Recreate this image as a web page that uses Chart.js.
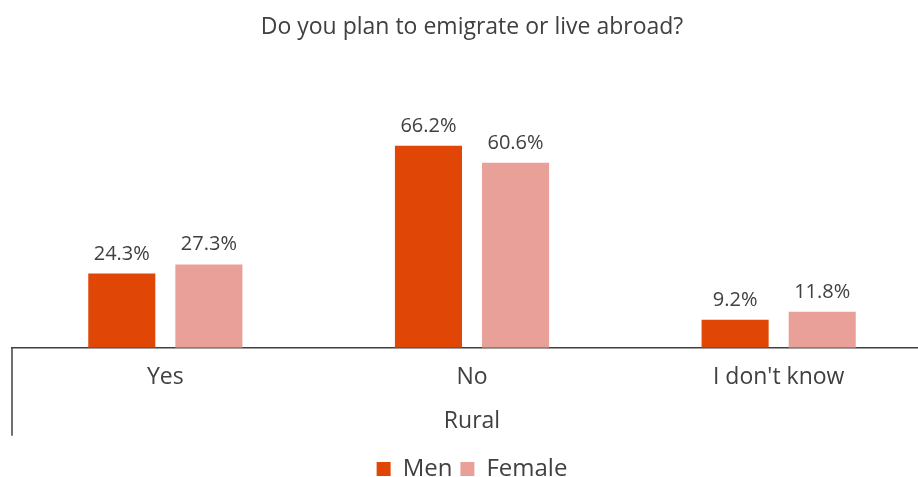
<!DOCTYPE html>
<html>
<head>
<meta charset="utf-8">
<script src="https://cdn.jsdelivr.net/npm/chart.js@4.4.1/dist/chart.umd.min.js"></script>
<style>
  html, body { margin: 0; padding: 0; background: #fff; overflow: hidden; }
  #wrap { width: 950px; height: 493px; position: relative; }
</style>
</head>
<body>
<div id="wrap"><canvas id="emigrationChart"></canvas></div>
<script>
const categories = ['Yes', 'No', "I don't know"];
const groupLabel = 'Rural';
const menValues = [24.3, 66.2, 9.2];
const femaleValues = [27.3, 60.6, 11.8];
const seriesNames = ['Men', 'Female'];

const textColor = '#404040';
const fontFamily = '"Open Sans", "Noto Sans", sans-serif';

// draws value labels above bars and the group separator under the axis
const barLabels = {
    id: 'barLabels',
    afterDatasetsDraw(chart) {
        const ctx = chart.ctx;
        ctx.save();
        ctx.fillStyle = textColor;
        ctx.font = '20px ' + fontFamily;
        ctx.textAlign = 'center';
        ctx.textBaseline = 'alphabetic';
        chart.data.datasets.forEach((ds, i) => {
            chart.getDatasetMeta(i).data.forEach((bar, j) => {
                ctx.fillText(ds.data[j].toFixed(1) + '%', bar.x, bar.y - 14);
            });
        });
        // left separator line of the multi-level category axis
        const area = chart.chartArea;
        ctx.strokeStyle = '#404040';
        ctx.lineWidth = 1.5;
        ctx.beginPath();
        ctx.moveTo(area.left, area.bottom);
        ctx.lineTo(area.left, area.bottom + 88);
        ctx.stroke();
        ctx.restore();
    }
};

const ctx = document.getElementById('emigrationChart').getContext('2d');
new Chart(ctx, {
    type: 'bar',
    data: {
        labels: categories,
        datasets: [
            { label: seriesNames[0], data: menValues, backgroundColor: '#E04606' },
            { label: seriesNames[1], data: femaleValues, backgroundColor: '#E9A099' }
        ]
    },
    options: {
        responsive: true,
        maintainAspectRatio: false,
        animation: false,
        datasets: { bar: { barPercentage: 0.77, categoryPercentage: 0.568 } },
        layout: { padding: { left: 12, right: 18, top: 0, bottom: 2 } },
        plugins: {
            title: { display: false },
            subtitle: {
                display: true,
                text: 'Do you plan to emigrate or live abroad?',
                color: textColor,
                font: { family: fontFamily, size: 23, weight: 'normal' },
                padding: { top: 14, bottom: 62 }
            },
            legend: {
                position: 'bottom',
                labels: {
                    color: textColor,
                    font: { family: fontFamily, size: 24 },
                    boxWidth: 14,
                    boxHeight: 14,
                    padding: 8
                }
            },
            tooltip: { enabled: false }
        },
        scales: {
            x: {
                grid: { display: false, drawTicks: false },
                border: { display: true, color: '#404040', width: 1.5 },
                ticks: { color: textColor, font: { family: fontFamily, size: 23 }, padding: 16 },
                title: {
                    display: true,
                    text: groupLabel,
                    color: textColor,
                    font: { family: fontFamily, size: 23 },
                    padding: { top: 0, bottom: 14 }
                }
            },
            y: {
                display: false,
                min: 0,
                max: 80
            }
        }
    },
    plugins: [barLabels]
});
</script>
</body>
</html>
